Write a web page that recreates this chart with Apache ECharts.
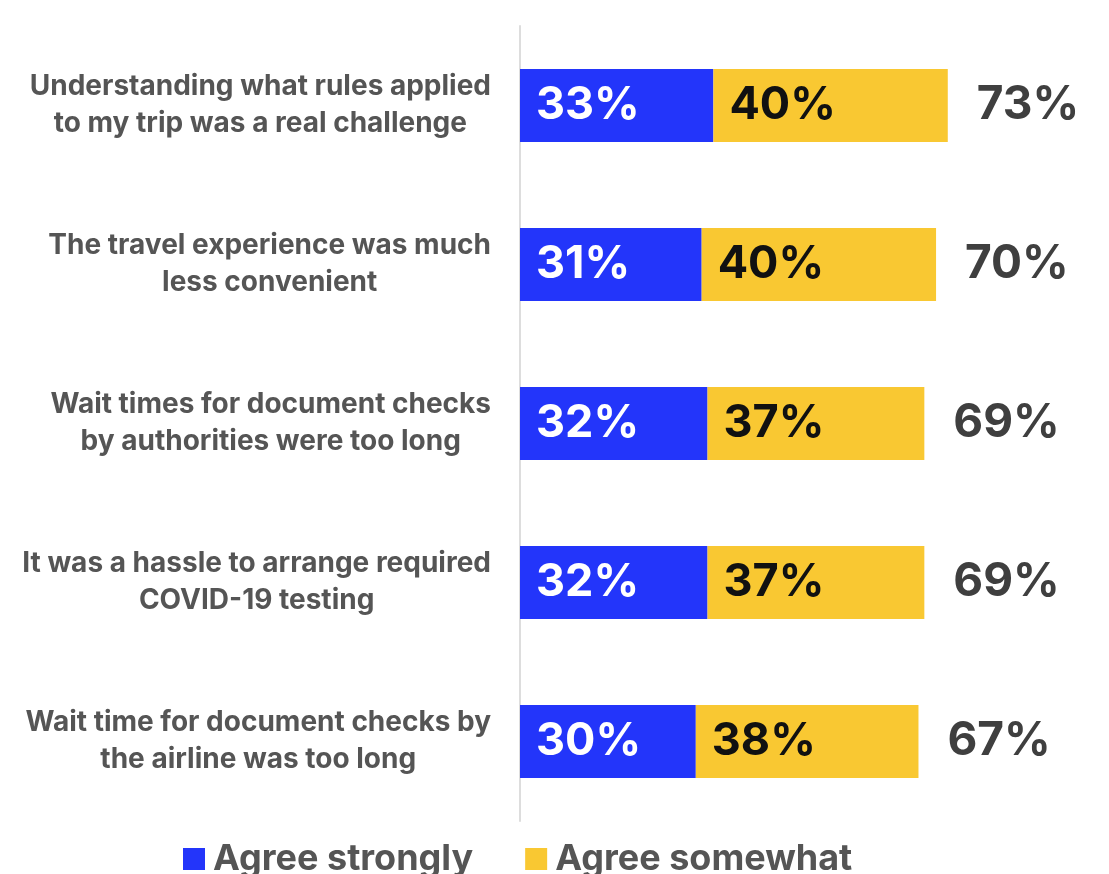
<!DOCTYPE html>
<html>
<head>
<meta charset="utf-8">
<script src="https://cdn.jsdelivr.net/npm/echarts@6/dist/echarts.min.js"></script>
<style>
html,body{margin:0;padding:0;background:#fff;}
#chart{width:1109px;height:874px;}
</style>
</head>
<body>
<div id="chart"></div>
<script>
const categories = [
  "Understanding what rules applied\nto my trip was a real challenge",
  "The travel experience was much\nless convenient",
  "Wait times for document checks\nby authorities were too long",
  "It was a hassle to arrange required\nCOVID-19 testing",
  "Wait time for document checks by\nthe airline was too long"
];
const agreeStrongly = [33, 31, 32, 32, 30];
const agreeSomewhat = [40, 40, 37, 37, 38];
const totals = [73, 70, 69, 69, 67];

const FONT = "Inter, 'Noto Sans', sans-serif";
const chart = echarts.init(document.getElementById('chart'));
chart.setOption({
  animation: false,
  backgroundColor: '#ffffff',
  grid: { left: 520, right: 3, top: 26, bottom: 53, containLabel: false },
  legend: {
    data: ['Agree strongly', 'Agree somewhat'],
    left: 178, bottom: -8,
    itemWidth: 22, itemHeight: 22, itemGap: 52,
    icon: 'rect',
    textStyle: { fontFamily: FONT, fontSize: 36, fontWeight: 'bold', color: '#555555', padding: [0, 0, 0, 3] }
  },
  xAxis: {
    type: 'value', min: 0, max: 100,
    show: false
  },
  yAxis: {
    type: 'category', data: categories, inverse: true,
    axisLine: { show: true, lineStyle: { color: '#dddddd', width: 2 } },
    axisTick: { show: false },
    axisLabel: {
      margin: 29, align: 'right',
      formatter: v => v.split('\n').map(s => '{c|' + s + '}').join('\n'),
      rich: {
        c: { align: 'center', fontFamily: FONT, fontSize: 28, fontWeight: 'bold', color: '#555555', lineHeight: 37 }
      }
    }
  },
  series: [
    {
      name: 'Agree strongly', type: 'bar', stack: 'a', data: agreeStrongly, barWidth: 73,
      itemStyle: { color: '#2335fa' },
      label: { show: true, position: 'insideLeft', distance: 16, formatter: '{c}%',
        fontFamily: FONT, fontSize: 45, fontWeight: 'bold', color: '#ffffff' }
    },
    {
      name: 'Agree somewhat', type: 'bar', stack: 'a', data: agreeSomewhat, barWidth: 73,
      itemStyle: { color: '#f9c832' },
      label: { show: true, position: 'insideLeft', distance: 16, formatter: '{c}%',
        fontFamily: FONT, fontSize: 45, fontWeight: 'bold', color: '#111111' }
    },
    {
      name: 'Total', type: 'bar', stack: 'a', data: totals.map(() => 0), barWidth: 73,
      itemStyle: { color: 'rgba(0,0,0,0)' },
      label: { show: true, position: 'right', distance: 29,
        formatter: p => totals[p.dataIndex] + '%',
        fontFamily: FONT, fontSize: 46, fontWeight: 'bold', color: '#3f3f3f' }
    }
  ]
});
</script>
</body>
</html>
